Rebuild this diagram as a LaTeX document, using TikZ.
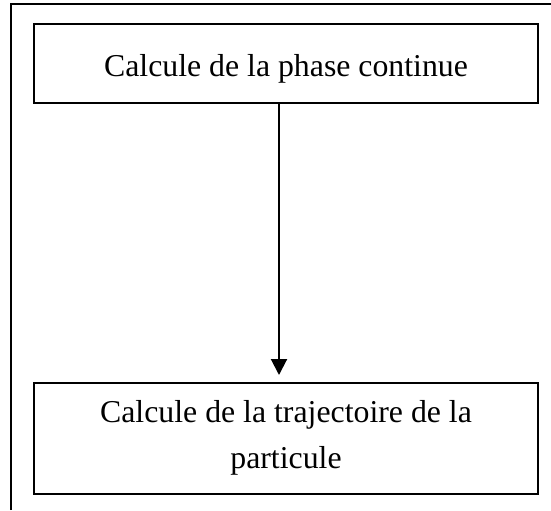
\documentclass[tikz,border=0pt]{standalone}
\usepackage{fontspec}
\setmainfont{Liberation Serif}
\usetikzlibrary{arrows.meta}
\begin{document}
\begin{tikzpicture}[x=0.5pt,y=-0.5pt,
  frame/.style={line width=1pt},
  box/.style={draw,line width=1pt,inner sep=0,minimum width=252pt},
  lbl/.style={font=\fontsize{15.9}{23.5}\selectfont,inner sep=0,anchor=base},
  conn/.style={line width=1pt,-{Triangle[width=8pt,length=8pt]}}]
\useasboundingbox (0,0) rectangle (551,510);
\draw[frame] (11,510) -- (11,4) -- (551,4);
\node[box,minimum height=39.5pt] (top) at (286,63.5) {};
\node[box,minimum height=55.5pt] (bot) at (286,438.5) {};
\node[lbl] (t1) at (286,76) {Calcule de la phase continue};
\node[lbl] (b1) at (286,422) {Calcule de la trajectoire de la};
\node[lbl] (b2) at (286,468) {particule};
\draw[conn] ([xshift=-3.5pt]top.south) -- ([xshift=-3.5pt,yshift=3.5pt]bot.north);
\end{tikzpicture}
\end{document}
